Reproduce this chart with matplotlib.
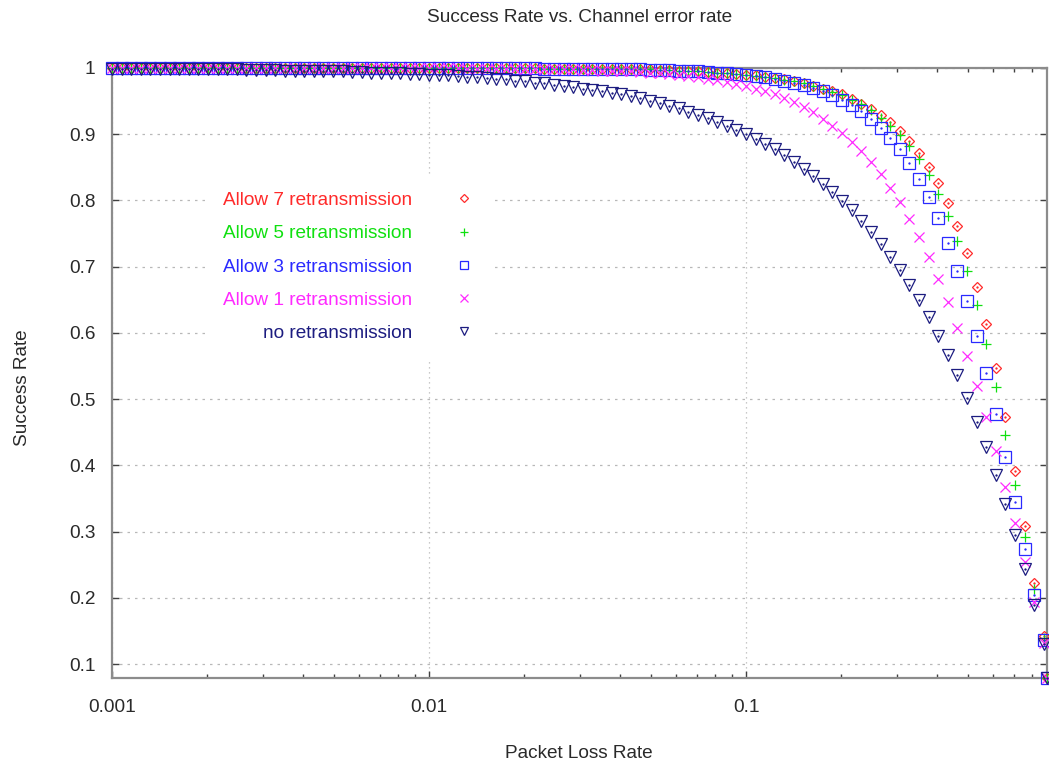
import numpy as np
import matplotlib
matplotlib.use("Agg")
import matplotlib.pyplot as plt
from matplotlib.font_manager import FontProperties

# ---- data (packet loss rate on a log grid, 33 points per decade)
mantissa = [1.0, 1.0723, 1.1498, 1.2328, 1.3219, 1.4175, 1.5199, 1.6298, 1.7475, 1.8738,
            2.0092, 2.1544, 2.3101, 2.4771, 2.6561, 2.848, 3.0539, 3.2745, 3.5112, 3.7649,
            4.037, 4.3288, 4.6416, 4.977, 5.3367, 5.7224, 6.1359, 6.5793, 7.0548, 7.5646,
            8.1113, 8.6975, 9.326]
loss_rate = [m * 1e-3 for m in mantissa] + [m * 1e-2 for m in mantissa] + [m * 1e-1 for m in mantissa]

no_retx = [0.999, 0.999, 0.999, 0.999, 0.999, 0.999, 0.998, 0.998, 0.998, 0.998, 0.998, 0.998,
           0.998, 0.998, 0.997, 0.997, 0.997, 0.997, 0.996, 0.996, 0.996, 0.996, 0.995, 0.995,
           0.995, 0.994, 0.994, 0.993, 0.993, 0.992, 0.992, 0.991, 0.991,
           0.990, 0.989, 0.989, 0.988, 0.987, 0.986, 0.985, 0.984, 0.983, 0.981, 0.980, 0.978,
           0.977, 0.975, 0.973, 0.972, 0.969, 0.967, 0.965, 0.962, 0.960, 0.957,
           0.954, 0.950, 0.947, 0.943, 0.939, 0.934, 0.929, 0.924, 0.919, 0.913, 0.907, 0.900,
           0.893, 0.885, 0.877, 0.868, 0.858, 0.848, 0.837, 0.825, 0.813, 0.799,
           0.785, 0.769, 0.752, 0.734, 0.715, 0.695, 0.673, 0.649, 0.624, 0.596, 0.567, 0.536,
           0.502, 0.466, 0.428, 0.386, 0.342, 0.295, 0.244, 0.189, 0.130, 0.067]

retx1 = [1.0] * 37 + [0.999] * 8 + [
    0.998, 0.998, 0.998, 0.998, 0.997, 0.997, 0.996, 0.996, 0.995, 0.995,
    0.994, 0.993, 0.992, 0.991, 0.989, 0.988, 0.986, 0.984, 0.982, 0.979, 0.976, 0.973,
    0.969, 0.965, 0.960, 0.954, 0.948, 0.941, 0.933, 0.923, 0.913, 0.902,
    0.889, 0.874, 0.858, 0.840, 0.819, 0.797, 0.772, 0.745, 0.715, 0.682, 0.646, 0.607,
    0.565, 0.520, 0.473, 0.422, 0.368, 0.313, 0.254, 0.194, 0.132, 0.067]

retx3 = [1.0] * 45 + [0.999] * 8 + [
    0.998, 0.998, 0.998, 0.997, 0.997, 0.997, 0.996, 0.996, 0.995, 0.994, 0.993, 0.992,
    0.991, 0.989, 0.988, 0.986, 0.983, 0.981, 0.978, 0.974, 0.970, 0.965, 0.959, 0.952,
    0.944, 0.935, 0.923, 0.910, 0.895, 0.877, 0.857, 0.833, 0.805, 0.773, 0.736, 0.694,
    0.648, 0.596, 0.539, 0.478, 0.412, 0.344, 0.274, 0.205, 0.136, 0.068]

retx5 = [1.0] * 45 + [0.999] * 8 + [
    0.998, 0.998, 0.998, 0.998, 0.997, 0.997, 0.996, 0.996, 0.995, 0.994, 0.993, 0.992,
    0.991, 0.990, 0.988, 0.987, 0.985, 0.982, 0.980, 0.977, 0.973, 0.969, 0.964, 0.959,
    0.952, 0.945, 0.936, 0.925, 0.913, 0.899, 0.882, 0.862, 0.838, 0.810, 0.777, 0.739,
    0.694, 0.642, 0.583, 0.518, 0.446, 0.370, 0.292, 0.214, 0.140, 0.068]

retx7 = [1.0] * 45 + [0.999] * 8 + [
    0.998, 0.998, 0.998, 0.998, 0.997, 0.997, 0.996, 0.996, 0.995, 0.994, 0.993, 0.992,
    0.991, 0.990, 0.989, 0.987, 0.985, 0.983, 0.980, 0.977, 0.973, 0.969, 0.965, 0.960,
    0.953, 0.946, 0.938, 0.929, 0.918, 0.905, 0.890, 0.872, 0.851, 0.826, 0.796, 0.761,
    0.720, 0.670, 0.613, 0.547, 0.473, 0.392, 0.308, 0.223, 0.143, 0.069]

series_labels = ["Allow 7 retransmission", "Allow 5 retransmission", "Allow 3 retransmission",
                 "Allow 1 retransmission", "no retransmission"]
series_values = [retx7, retx5, retx3, retx1, no_retx]
series_colors = ["#ff2a2a", "#10e010", "#2a2aff", "#ff2aff", "#1c1c80"]
series_markers = ["D", "+", "s", "x", "v"]
series_sizes = [5.0, 7.5, 8.0, 7.0, 8.0]
center_dot = [True, False, True, False, True]

x_ticks = [0.001, 0.01, 0.1]
x_tick_labels = ["0.001", "0.01", "0.1"]
y_ticks = [0.1, 0.2, 0.3, 0.4, 0.5, 0.6, 0.7, 0.8, 0.9, 1.0]
y_tick_labels = ["0.1", "0.2", "0.3", "0.4", "0.5", "0.6", "0.7", "0.8", "0.9", "1"]

XMIN, XMAX = 0.001, 0.89
YMIN, YMAX = 0.079, 1.0

FONT = "Liberation Sans"
FS = 13.7
TXT = "#2a2a2a"

W, H = 1049, 766
fig = plt.figure(figsize=(W / 100, H / 100), dpi=100)
ax = fig.add_axes([112 / W, 1 - 678 / H, 935 / W, 610 / H])
ax.set_xscale("log")
ax.set_xlim(XMIN, XMAX)
ax.set_ylim(YMIN, YMAX)

x_arr = np.minimum(np.array(loss_rate), XMAX)
handles = []
for lab, vals, col, mk, ms, dot in zip(series_labels, series_values, series_colors,
                                        series_markers, series_sizes, center_dot):
    y_arr = np.maximum(np.array(vals), YMIN)
    h, = ax.plot(x_arr, y_arr, ls="none", marker=mk, ms=ms, mfc="none", mec=col,
                 mew=0.9, clip_on=False, label=lab, zorder=3)
    if dot:
        ax.plot(x_arr, y_arr, ls="none", marker="o", ms=1.3, mfc=col, mec=col,
                mew=0.3, clip_on=False, zorder=3)
    handles.append(h)

ax.set_xticks(x_ticks)
ax.set_xticklabels(x_tick_labels)
ax.set_yticks(y_ticks)
ax.set_yticklabels(y_tick_labels)
ax.tick_params(which="both", direction="in", top=True, right=True, colors="#404040",
               labelcolor=TXT, labelsize=FS)
ax.tick_params(which="major", length=5, width=1)
ax.tick_params(which="minor", length=3, width=1)
ax.tick_params(axis="x", pad=15)
ax.tick_params(axis="y", pad=12)
ax.yaxis.set_minor_locator(plt.NullLocator())
for lbl in ax.get_xticklabels() + ax.get_yticklabels():
    lbl.set_fontfamily(FONT)

ax.grid(True, which="major", axis="y", ls=(0, (2, 4)), color="#b8b8b8", lw=0.9, zorder=0)
ax.grid(True, which="major", axis="x", ls=(0, (1, 3)), color="#b8b8b8", lw=0.9, zorder=0)
ax.set_axisbelow(True)
for sp in ax.spines.values():
    sp.set_color("#8c8c8c")
    sp.set_linewidth(1.6)

leg = ax.legend(handles, series_labels, loc="center right", bbox_to_anchor=(0.416, 0.674),
                markerfirst=False, frameon=True, facecolor="white", edgecolor="none",
                fancybox=False, framealpha=1.0, handlelength=1.0, handletextpad=2.2,
                labelspacing=0.84, borderpad=0.95, markerscale=0.8,
                prop=FontProperties(family=FONT, size=FS))
for t, c in zip(leg.get_texts(), series_colors):
    t.set_color(c)

fig.text(580 / W, 1 - 17 / H, "Success Rate vs. Channel error rate", ha="center", va="center",
         fontsize=FS, family=FONT, color=TXT)
fig.text(579 / W, 1 - 753 / H, "Packet Loss Rate", ha="center", va="center",
         fontsize=FS, family=FONT, color=TXT)
fig.text(23 / W, 1 - 388 / H, "Success Rate", ha="center", va="center", rotation=90,
         fontsize=FS, family=FONT, color=TXT)

fig.savefig("out.png", dpi=100)
